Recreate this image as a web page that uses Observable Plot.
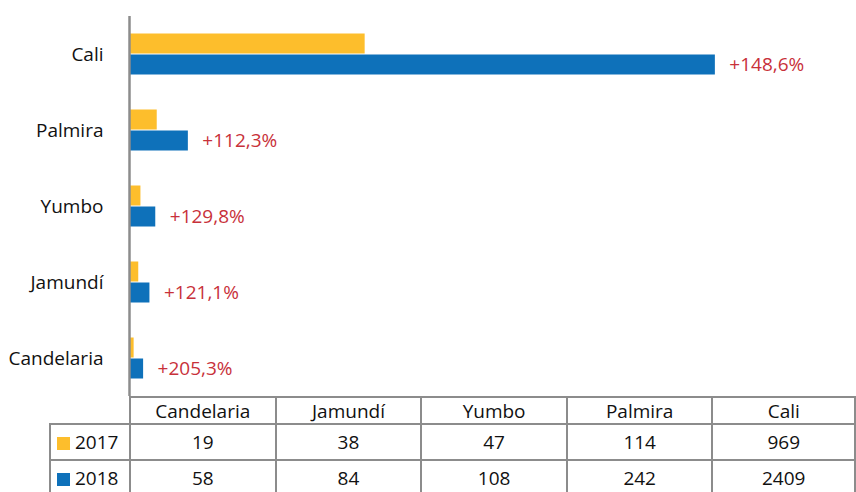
<!DOCTYPE html>
<html>
<head>
<meta charset="utf-8">
<script src="https://cdn.jsdelivr.net/npm/d3@7"></script>
<script src="https://cdn.jsdelivr.net/npm/@observablehq/plot@0.6"></script>
<style>
  html, body { margin: 0; padding: 0; background: #fff; overflow: hidden; }
  #chart svg { display: block; }
  table.dt {
    border-collapse: collapse;
    table-layout: fixed;
    margin-left: 49px;
    font-family: "Open Sans", sans-serif;
    font-size: 19px;
    color: #111;
  }
  table.dt td {
    border: 2px solid #8c8c8c;
    padding: 0;
    text-align: center;
    white-space: nowrap;
    line-height: 20px;
  }
  table.dt tr.head td { height: 25px; }
  table.dt tr.row td { height: 34px; }
  table.dt td.corner { border-top: none; border-left: none; }
  table.dt td.leg { text-align: left; padding-left: 6px; }
  .sw { display: inline-block; width: 13px; height: 13px; margin-right: 5px; vertical-align: -1px; }
</style>
</head>
<body>
<div id="chart"></div>
<script>
// Data
const cities = ["Cali", "Palmira", "Yumbo", "Jamundí", "Candelaria"];
const tableOrder = ["Candelaria", "Jamundí", "Yumbo", "Palmira", "Cali"];
const years = ["2017", "2018"];
const values2017 = [969, 114, 47, 38, 19];
const values2018 = [2409, 242, 108, 84, 58];
const colors = ["#FDBE2C", "#0E71BA"];

const rows = [];
cities.forEach((c, i) => {
  rows.push({city: c, year: "2017", value: values2017[i]});
  rows.push({city: c, year: "2018", value: values2018[i]});
});
const labels = cities.map((c, i) => ({
  city: c,
  year: "2018",
  value: values2018[i],
  text: "+" + ((values2018[i] - values2017[i]) / values2017[i] * 100).toFixed(1).replace(".", ",") + "%"
}));

const fontFamily = "'Open Sans', sans-serif";

const plot = Plot.plot({
  width: 856,
  height: 396,
  marginTop: 15,
  marginBottom: 0,
  marginLeft: 129,
  marginRight: 119,
  style: {fontFamily, fontSize: "19px", color: "#111", background: "#fff"},
  x: {domain: [0, 2500], axis: null},
  y: {domain: years, paddingInner: 0, paddingOuter: 0.78, axis: null},
  fy: {domain: cities, padding: 0, label: null, axis: "left", tickSize: 0, tickPadding: 26},
  color: {domain: years, range: colors},
  marks: [
    Plot.barX(rows, {x: "value", y: "year", fy: "city", fill: "year", insetTop: 0.5, insetBottom: 0.5}),
    Plot.ruleX([0], {stroke: "#8c8c8c", strokeWidth: 2.5}),
    Plot.text(labels, {x: "value", y: "year", fy: "city", text: "text", dx: 14, textAnchor: "start", fill: "#C8313A", fontSize: 19})
  ]
});
document.getElementById("chart").appendChild(plot);

// Data table below the chart
const table = document.createElement("table");
table.className = "dt";
const colW = [80, 146, 146, 146, 146, 143];
const cg = document.createElement("colgroup");
colW.forEach(w => { const col = document.createElement("col"); col.style.width = w + "px"; cg.appendChild(col); });
table.appendChild(cg);
const head = document.createElement("tr");
head.className = "head";
const corner = document.createElement("td");
corner.className = "corner";
head.appendChild(corner);
tableOrder.forEach(c => { const td = document.createElement("td"); td.textContent = c; head.appendChild(td); });
table.appendChild(head);
const seriesByYear = {"2017": values2017, "2018": values2018};
years.forEach((y, yi) => {
  const tr = document.createElement("tr");
  tr.className = "row";
  const leg = document.createElement("td");
  leg.className = "leg";
  const sw = document.createElement("span");
  sw.className = "sw";
  sw.style.background = colors[yi];
  leg.appendChild(sw);
  leg.appendChild(document.createTextNode(y));
  tr.appendChild(leg);
  tableOrder.forEach(c => {
    const td = document.createElement("td");
    td.textContent = seriesByYear[y][cities.indexOf(c)];
    tr.appendChild(td);
  });
  table.appendChild(tr);
});
document.body.appendChild(table);
</script>
</body>
</html>
